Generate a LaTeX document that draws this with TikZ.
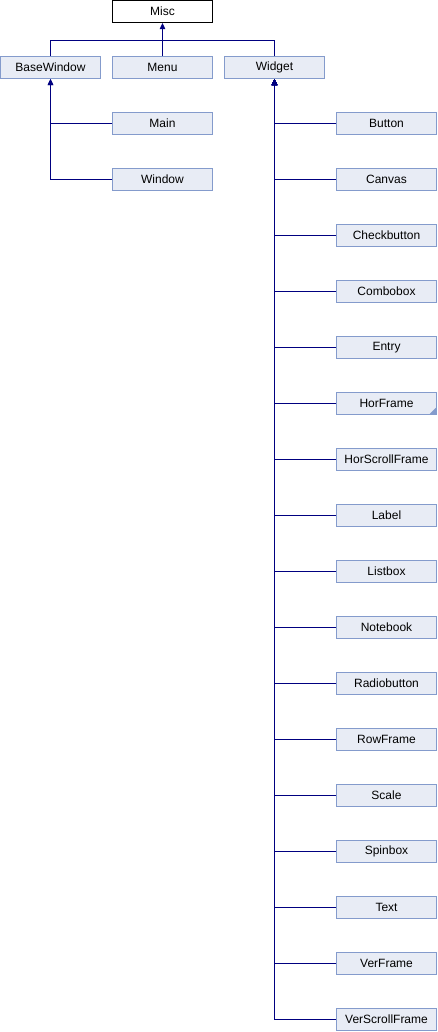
\documentclass[tikz,border=0pt]{standalone}
\usepackage{fontspec}
\setmainfont{Liberation Sans}
\usetikzlibrary{arrows.meta}
\definecolor{boxfill}{RGB}{232,236,245}
\definecolor{boxdraw}{RGB}{132,155,204}
\definecolor{linkcol}{RGB}{0,0,128}
\begin{document}
\begin{tikzpicture}[x=0.75pt,y=-0.75pt,
  cls/.style={draw=boxdraw, fill=boxfill, line width=0.75pt, minimum width=75pt, minimum height=16.5pt, inner sep=0pt, font=\fontsize{9pt}{10pt}\selectfont},
  root/.style={cls, draw=black, fill=white},
  conn/.style={draw=linkcol, line width=0.9pt},
  inh/.style={conn, -{Triangle[length=4.5pt,width=4pt]}}]
\useasboundingbox (0,0) rectangle (438,1032);
\node[root] (misc) at (162.5,11.5) {Misc};
\node[cls] (basewindow) at (50.5,67.5) {BaseWindow};
\node[cls] (menu) at (162.5,67.5) {Menu};
\node[cls] (widget) at (274.5,67.5) {Widget};
\node[cls] (main) at (162.5,123.5) {Main};
\node[cls] (window) at (162.5,179.5) {Window};
\coordinate (bus) at (162.5,40.5);
\draw[conn] (basewindow.north) |- (bus) -| (widget.north);
\draw[inh] (menu.north) -- (misc.south);
\draw[inh] (main.west) -| (basewindow.south);
\draw[inh] (window.west) -| (basewindow.south);
\foreach \name [count=\i from 0] in {Button,Canvas,Checkbutton,Combobox,Entry,HorFrame,HorScrollFrame,Label,Listbox,Notebook,Radiobutton,RowFrame,Scale,Spinbox,Text,VerFrame,VerScrollFrame} {
  \node[cls] (w\i) at (386.5,123.5+56*\i) {\name};
  \draw[inh] (w\i.west) -| (widget.south);
}
\fill[boxdraw] ([xshift=-0.9pt,yshift=0.9pt]w5.south east) -- ++(0,4.5pt) -- ++(-4.5pt,-4.5pt) -- cycle;
\end{tikzpicture}
\end{document}
